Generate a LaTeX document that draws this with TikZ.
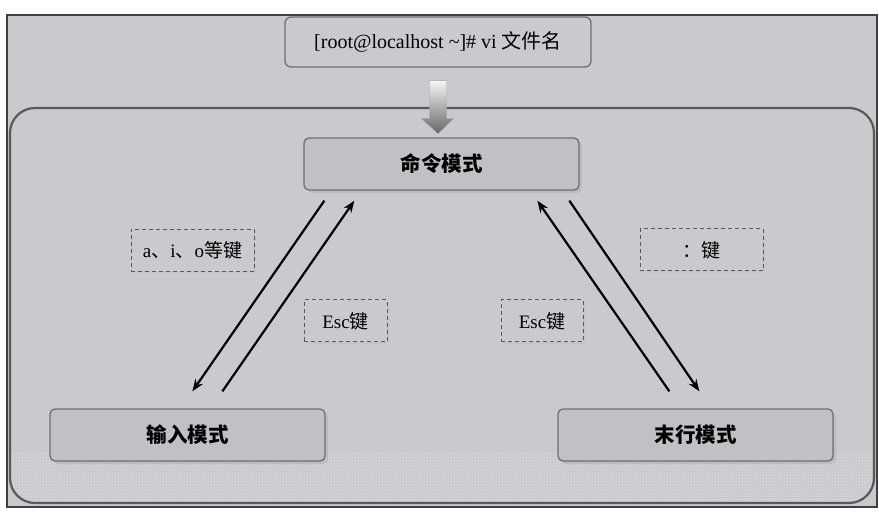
\documentclass[tikz,border=0pt]{standalone}
\usepackage{fontspec}
\setmainfont{Liberation Serif}
\newfontfamily\cjk{Noto Sans CJK SC}
\usetikzlibrary{arrows.meta,positioning,shadows,patterns}

\definecolor{bg}{RGB}{202,202,206}
\definecolor{boxfill}{RGB}{192,192,197}
\definecolor{rim}{RGB}{110,110,116}

\tikzset{
  mode/.style={draw=rim, line width=1.3pt, fill=boxfill, rounded corners=5pt, minimum width=275pt, minimum height=52pt,
    font=\cjk\bfseries\fontsize{20.5}{24}\selectfont,
    drop shadow={shadow xshift=3pt, shadow yshift=-3pt, fill=gray!60, opacity=.6}},
  keybox/.style={draw=gray!70!black, line width=1pt, dash pattern=on 4pt off 3pt, fill=bg, minimum height=42pt,
    font=\fontsize{19}{22}\selectfont,
    drop shadow={shadow xshift=2pt, shadow yshift=-2pt, fill=gray!50, opacity=.5}},
  trans/.style={-{Stealth[length=12pt,width=9pt]}, line width=2.2pt}
}

\begin{document}
\begin{tikzpicture}[x=1pt,y=-1pt]
  \useasboundingbox (0,0) rectangle (879,513);
  % frame and panel
  \fill[white] (0,0) rectangle (879,513);
  \draw[fill=bg, draw=black!75, line width=1.5pt] (7,15) rectangle (877,507);
  \begin{scope}
    \clip[rounded corners=25pt] (10,108) rectangle (874,503);
    \fill[pattern=crosshatch dots, pattern color=white!45!bg] (10,452) rectangle (874,503);
  \end{scope}
  \draw[draw=black!65, line width=2.2pt, rounded corners=25pt] (10,108) rectangle (874,503);

  \node[draw=rim, line width=1.3pt, fill=bg, rounded corners=6pt, minimum width=306pt, minimum height=50pt,
        font=\fontsize{20}{24}\selectfont] (shell) at (438,42)
        {[root@localhost \textasciitilde]\# vi {\cjk 文件名}};
  \node[mode] (cmd)  at (441.5,164) {命令模式};
  \node[mode] (ins)  at (187.5,435) {输入模式};
  \node[mode] (last) at (695.5,435) {末行模式};

  \node[keybox, minimum width=123pt] (ai)    at (192.5,250.5) {a{\cjk 、}i{\cjk 、}o{\cjk 等键}};
  \node[keybox, minimum width=123pt] (colon) at (701.5,250)   {\cjk ：键};
  \node[keybox, minimum width=83pt]  (escl)  at (345.5,321)   {Esc{\cjk 键}};
  \node[keybox, minimum width=82pt]  (escr)  at (542,321)     {Esc{\cjk 键}};

  % vi filename opens command mode
  \shade[top color=gray!8, bottom color=gray!80!black, draw=gray!70]
    ([xshift=-8.5pt,yshift=-13pt]shell.south) -- ++(17,0) -- ++(0,38) -- ++(7,0)
    -- ++(-15.5,15) -- ++(-16.5,-15) -- ++(8,0) -- cycle;

  \draw[trans] ([xshift=21pt,yshift=-10pt]cmd.south west) -- ([xshift=143pt,yshift=17pt]ins.north west);
  \draw[trans] ([xshift=173pt,yshift=17pt]ins.north west) -- ([xshift=51pt,yshift=-10pt]cmd.south west);
  \draw[trans] ([xshift=112pt,yshift=17pt]last.north west) -- ([xshift=234pt,yshift=-10pt]cmd.south west);
  \draw[trans] ([xshift=266pt,yshift=-10pt]cmd.south west) -- ([xshift=142pt,yshift=17pt]last.north west);
\end{tikzpicture}
\end{document}
